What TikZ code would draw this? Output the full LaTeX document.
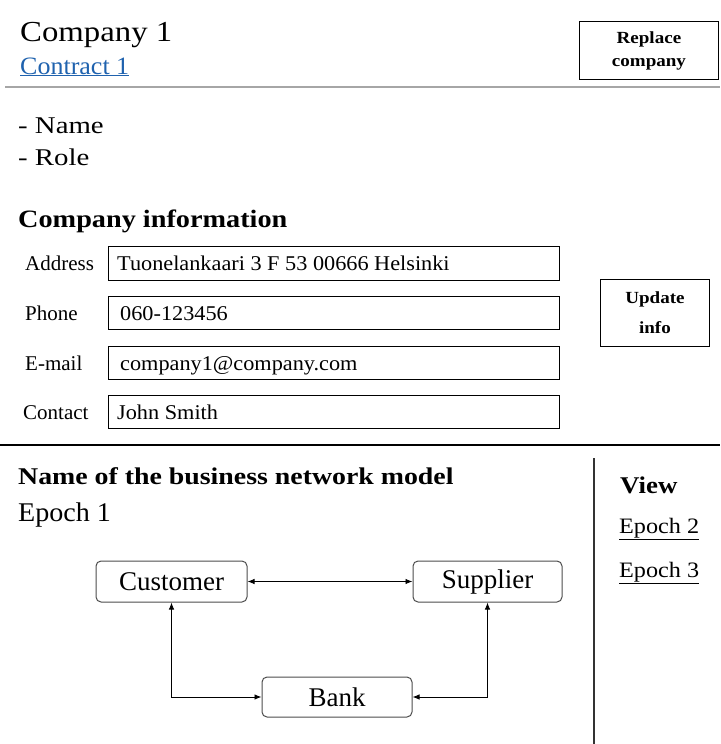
\documentclass[tikz,border=0pt]{standalone}
\usepackage{fontspec}
\setmainfont{Liberation Serif}
\usetikzlibrary{arrows.meta}
\definecolor{linkblue}{HTML}{1F62AE}
\newcommand{\fs}[1]{\fontsize{#1}{#1}\selectfont}
\newcommand{\hx}[2]{\scalebox{#1}[1]{#2}}
\tikzset{
  txt/.style={anchor=base west, inner sep=0pt},
  fieldbox/.style={draw, line width=0.9pt, anchor=north west, inner sep=0pt},
  button/.style={draw, line width=0.9pt, anchor=north west, align=center, inner sep=0pt},
  entity/.style={draw=black!70, line width=1pt, rounded corners=5pt, inner sep=0pt, font=\fs{27}},
  link/.style={{Latex[length=7pt,width=5.5pt]}-{Latex[length=7pt,width=5.5pt]}, line width=0.9pt},
}
\begin{document}
\begin{tikzpicture}[x=1pt,y=-1pt]
\useasboundingbox (0,0) rectangle (720,744);
% header
\node[txt] (company) at (20,41) {\fs{29}\hx{1.13}{Company 1}};
\node[txt,text=linkblue] (contract) at (20,74) {\fs{25}\hx{1.04}{\underline{Contract 1}}};
\node[button, minimum width=139pt, minimum height=58pt, font=\fontsize{17}{23}\selectfont\bfseries] (replace) at (579,21) {\hx{1.12}{Replace}\\\hx{1.12}{company}};
\draw[black!35, line width=2pt] (5,87) -- (720,87);
% name / role
\node[txt] (name) at (18,133) {\fs{24}\hx{1.2}{- Name}};
\node[txt] (role) at (18,165) {\fs{24}\hx{1.2}{- Role}};
\node[txt] (cinfo) at (18,227) {\fs{25}\bfseries\hx{1.13}{Company information}};
% fields
\node[fieldbox, minimum width=451pt, minimum height=34pt] (addrbox) at (108,246) {};
\node[fieldbox, minimum width=451pt, minimum height=33pt] (phonebox) at (108,296) {};
\node[fieldbox, minimum width=451pt, minimum height=33pt] (mailbox) at (108,346) {};
\node[fieldbox, minimum width=451pt, minimum height=33pt] (contbox) at (108,395) {};
\node[txt] (addrlab) at (25,270) {\fs{21}Address};
\node[txt] (phonelab) at (25,320) {\fs{21}Phone};
\node[txt] (maillab) at (25,370) {\fs{21}E-mail};
\node[txt] (contlab) at (23,419) {\fs{21}Contact};
\node[txt] (addr) at (117,270) {\fs{21}\hx{1.06}{Tuonelankaari 3 F 53 00666 Helsinki}};
\node[txt] (phone) at (120,320) {\fs{21}\hx{1.06}{060-123456}};
\node[txt] (mail) at (120,370) {\fs{21}\hx{1.06}{company1@company.com}};
\node[txt] (cont) at (117,419) {\fs{21}\hx{1.06}{John Smith}};
\node[button, minimum width=109pt, minimum height=67pt, font=\fontsize{17}{30}\selectfont\bfseries] (update) at (600,279) {\hx{1.12}{Update}\\\hx{1.12}{info}};
% lower section
\draw[black, line width=2.5pt] (0,445) -- (720,445);
\draw[black!80, line width=1.2pt] (594,458) -- (594,744);
\node[txt] (bnm) at (18,484) {\fs{24}\bfseries\hx{1.16}{Name of the business network model}};
\node[txt] (epoch1) at (18,521) {\fs{27}\hx{1.04}{Epoch 1}};
\node[txt] (view) at (620,493) {\fs{24}\bfseries\hx{1.12}{View}};
\node[txt] (epoch2) at (619,533) {\fs{22}\hx{1.1}{\underline{Epoch 2}}};
\node[txt] (epoch3) at (619,577) {\fs{22}\hx{1.1}{\underline{Epoch 3}}};
% network
\node[entity, minimum width=151pt, minimum height=41pt] (cust) at (171.5,581.5) {Customer};
\node[entity, minimum width=149pt, minimum height=41pt] (supp) at (487.5,581.5) {Supplier};
\node[entity, minimum width=150pt, minimum height=40pt] (bank) at (337,697) {Bank};
\draw[link] (cust.east) -- (supp.west);
\draw[link] (cust.south) |- (bank.west);
\draw[link] (supp.south) |- (bank.east);
\end{tikzpicture}
\end{document}
